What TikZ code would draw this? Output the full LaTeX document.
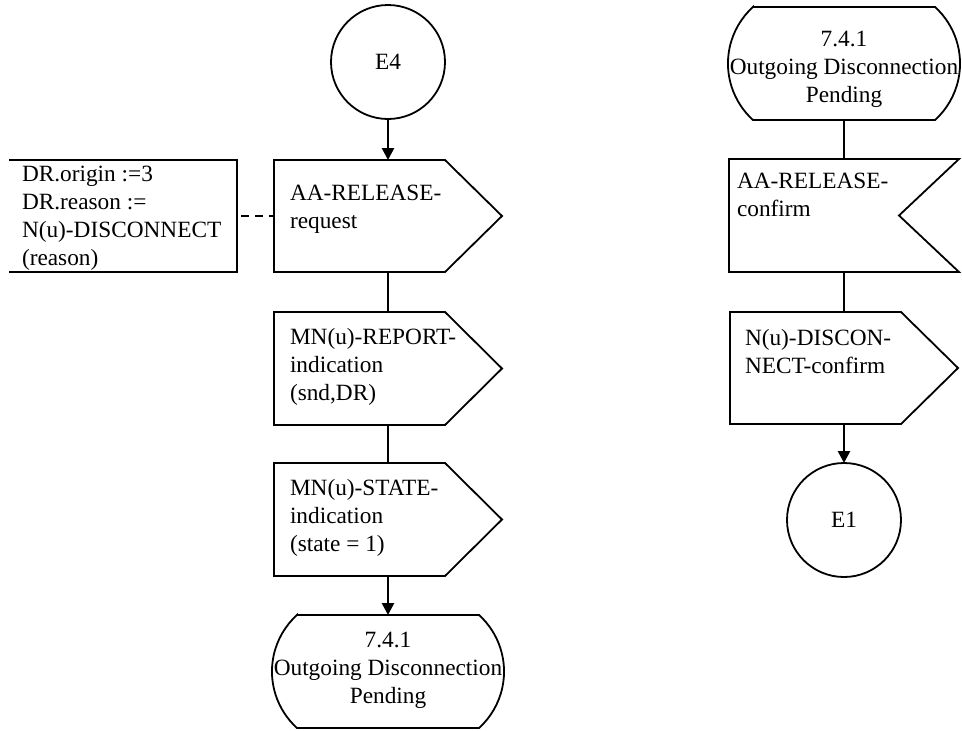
\documentclass[tikz,border=0pt]{standalone}
\usepackage{fontspec}
\setmainfont{Liberation Serif}
\usetikzlibrary{arrows.meta}
\newcommand{\dgfont}{\fontsize{23.3pt}{28pt}\selectfont}
\begin{document}
\begin{tikzpicture}[x=1pt,y=1pt,
  outl/.style={line width=1.8pt, line join=miter},
  conn/.style={line width=2.6pt},
  arr/.style={conn, -{Triangle[length=12pt,width=12pt]}},
  sbox/.style 2 args={draw=none, inner sep=0pt, outer sep=0pt, minimum width=#1, minimum height=#2},
  txt/.style={inner sep=0pt, outer sep=0pt, font=\dgfont},
  endpt/.style={circle, draw, line width=1.8pt, minimum size=114pt, inner sep=0pt, outer sep=0pt, font=\dgfont}
]
\useasboundingbox (0,0) rectangle (962,-731);

% ---------- left column ----------
\node[endpt] (e4) at (388,-62) {E4};

\node[sbox={228pt}{112pt}] (req) at (388,-216) {};
\draw[outl] (req.north west) -- ([xshift=171pt]req.north west) -- (req.east)
  -- ([xshift=171pt]req.south west) -- (req.south west) -- cycle;
\node[txt, anchor=base west] (reqt) at (290,-200) {\parbox[t]{200pt}{\raggedright AA-RELEASE-\\request}};

\node[sbox={228pt}{112pt}] (cmt) at (123,-216) {};
\draw[outl] (cmt.north west) -- (cmt.north east) -- (cmt.south east) -- (cmt.south west);
\node[txt, anchor=base west] (cmtt) at (22,-181) {\parbox[t]{220pt}{\raggedright DR.origin :=3\\DR.reason :=\\N(u)-DISCONNECT\\(reason)}};

\node[sbox={228pt}{113pt}] (rep) at (388,-368.5) {};
\draw[outl] (rep.north west) -- ([xshift=171pt]rep.north west) -- (rep.east)
  -- ([xshift=171pt]rep.south west) -- (rep.south west) -- cycle;
\node[txt, anchor=base west] (rept) at (290,-344) {\parbox[t]{200pt}{\raggedright MN(u)-REPORT-\\indication\\(snd,DR)}};

\node[sbox={228pt}{113pt}] (sta) at (388,-519.5) {};
\draw[outl] (sta.north west) -- ([xshift=171pt]sta.north west) -- (sta.east)
  -- ([xshift=171pt]sta.south west) -- (sta.south west) -- cycle;
\node[txt, anchor=base west] (stat) at (290,-495) {\parbox[t]{200pt}{\raggedright MN(u)-STATE-\\indication\\(state = 1)}};

\node[sbox={232pt}{113pt}] (pend) at (388,-671.5) {};
\draw[outl] ([xshift=25pt]pend.north west) -- ([xshift=-25pt]pend.north east)
  arc[start angle=47.8, end angle=-47.8, radius=76.3pt]
  -- ([xshift=25pt]pend.south west)
  arc[start angle=227.8, end angle=132.2, radius=76.3pt] -- cycle;
\node[txt, anchor=base] (pendt) at (388,-647) {\parbox[t]{260pt}{\centering 7.4.1\\Outgoing Disconnection\\Pending}};

\draw[arr] (e4.south) -- (req.north);
\draw[conn] (req.south) -- (rep.north);
\draw[conn] (rep.south) -- (sta.north);
\draw[arr] (sta.south) -- (pend.north);
\draw[line width=2.5pt, dash pattern=on 8pt off 6pt, dash phase=-4pt] (cmt.east) -- (req.west);

% ---------- right column ----------
\node[sbox={232pt}{113pt}] (pendr) at (844,-63.5) {};
\draw[outl] ([xshift=25pt]pendr.north west) -- ([xshift=-25pt]pendr.north east)
  arc[start angle=47.8, end angle=-47.8, radius=76.3pt]
  -- ([xshift=25pt]pendr.south west)
  arc[start angle=227.8, end angle=132.2, radius=76.3pt] -- cycle;
\node[txt, anchor=base] (pendrt) at (844,-46) {\parbox[t]{260pt}{\centering 7.4.1\\Outgoing Disconnection\\Pending}};

\node[sbox={230pt}{113pt}] (conf) at (844,-215.5) {};
\draw[outl] (conf.north west) -- (conf.north east) -- ([xshift=-60pt]conf.east)
  -- (conf.south east) -- (conf.south west) -- cycle;
\node[txt, anchor=base west] (conft) at (737,-188) {\parbox[t]{200pt}{\raggedright AA-RELEASE-\\confirm}};

\node[sbox={228pt}{112pt}] (disc) at (844,-368) {};
\draw[outl] (disc.north west) -- ([xshift=171pt]disc.north west) -- (disc.east)
  -- ([xshift=171pt]disc.south west) -- (disc.south west) -- cycle;
\node[txt, anchor=base west] (disct) at (745,-345) {\parbox[t]{200pt}{\raggedright N(u)-DISCON-\\NECT-confirm}};

\node[endpt] (e1) at (844,-520) {E1};

\draw[conn] (pendr.south) -- (conf.north);
\draw[conn] (conf.south) -- (disc.north);
\draw[arr] (disc.south) -- (e1.north);
\end{tikzpicture}
\end{document}
